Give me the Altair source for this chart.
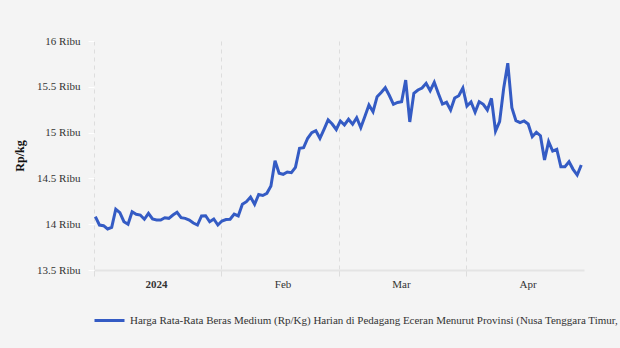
import altair as alt
import pandas as pd

# ---- data ----
day_offsets = list(range(120))  # days since 2024-01-01
prices = [
    14082, 13991, 13984, 13948, 13966, 14163, 14126, 14027, 13999, 14136,
    14108, 14100, 14054, 14119, 14057, 14046, 14046, 14071, 14064, 14100,
    14130, 14071, 14064, 14046, 14013, 13991, 14090, 14093, 14027, 14057,
    13991, 14035, 14051, 14054, 14111, 14090, 14217, 14246, 14297, 14217,
    14324, 14313, 14337, 14417, 14693, 14556, 14545, 14570, 14562, 14621,
    14829, 14835, 14938, 14999, 15021, 14938, 15036, 15138, 15094, 15034,
    15127, 15083, 15145, 15091, 15163, 15054, 15176, 15301, 15228, 15392,
    15438, 15490, 15405, 15309, 15329, 15337, 15574, 15116, 15429, 15465,
    15487, 15538, 15457, 15549, 15427, 15312, 15331, 15247, 15378, 15403,
    15487, 15290, 15334, 15222, 15337, 15309, 15247, 15374, 15017, 15119,
    15484, 15757, 15272, 15130, 15108, 15127, 15094, 14955, 15003, 14966,
    14701, 14901, 14799, 14818, 14628, 14628, 14682, 14599, 14537, 14646,
]
series_name = ("Harga Rata-Rata Beras Medium (Rp/Kg) Harian di Pedagang Eceran "
               "Menurut Provinsi (Nusa Tenggara Timur, Rp/Kg)")
y_ticks = [13500, 14000, 14500, 15000, 15500, 16000]
month_starts = [(2024, 1, 1), (2024, 2, 1), (2024, 3, 1), (2024, 4, 1)]

start = pd.Timestamp("2024-01-01T08:00:00")
df = pd.DataFrame({
    "tanggal": [(start + pd.Timedelta(days=d)).strftime("%Y-%m-%dT%H:%M:%S") for d in day_offsets],
    "harga": prices,
    "seri": [series_name] * len(prices),
})

FONT = "Liberation Serif"
LINE_COLOR = "#345bc4"

x_axis = alt.Axis(
    values=[alt.DateTime(year=y, month=m, date=d) for (y, m, d) in month_starts],
    labelExpr="month(datum.value) == 0 ? timeFormat(datum.value, '%Y') : timeFormat(datum.value, '%b')",
    labelFontWeight={"condition": {"test": "month(datum.value) == 0", "value": "bold"}, "value": "normal"},
    labelOffset=62,
    labelFlush=False,
    labelFont=FONT,
    labelFontSize=11,
    labelColor="#333333",
    labelPadding=2,
    grid=True,
    gridDash=[4, 4],
    gridColor="#dddddd",
    gridWidth=1,
    tickColor="#dddddd",
    tickSize=6,
    domainColor="#e4e4e4",
    domainWidth=2,
    title=None,
)

y_axis = alt.Axis(
    values=y_ticks,
    labelExpr="(datum.value / 1000) + ' Ribu'",
    labelFont=FONT,
    labelFontSize=11,
    labelColor="#333333",
    labelPadding=8,
    grid=False,
    domain=False,
    tickColor="#ffffff",
    tickSize=6,
    title="Rp/kg",
    titleFont=FONT,
    titleFontSize=12,
    titleFontWeight="bold",
    titleColor="#111111",
    titlePadding=10,
)

chart = alt.Chart(df).mark_line(strokeWidth=3, interpolate="linear").encode(
    x=alt.X("tanggal:T", axis=x_axis,
            scale=alt.Scale(domain=[alt.DateTime(year=2024, month=1, date=1),
                                    alt.DateTime(year=2024, month=4, date=30)])),
    y=alt.Y("harga:Q", axis=y_axis, scale=alt.Scale(domain=[13500, 16000], nice=False, zero=False)),
    color=alt.Color("seri:N", scale=alt.Scale(range=[LINE_COLOR]),
                    legend=alt.Legend(orient="none", legendX=-1, legendY=263, title=None,
                                      symbolType="stroke", symbolSize=900, symbolStrokeWidth=3,
                                      labelLimit=0, labelFont=FONT, labelFontSize=11,
                                      labelColor="#333333", labelOffset=4, padding=0)),
).properties(
    width=490,
    height=229,
    background="#f4f4f4",
    autosize=alt.AutoSizeParams(type="none"),
    padding={"left": 94, "top": 41, "right": 36, "bottom": 78},
).configure_view(stroke=None)

chart.save("out.html", embed_options={"renderer": "svg", "actions": False})
